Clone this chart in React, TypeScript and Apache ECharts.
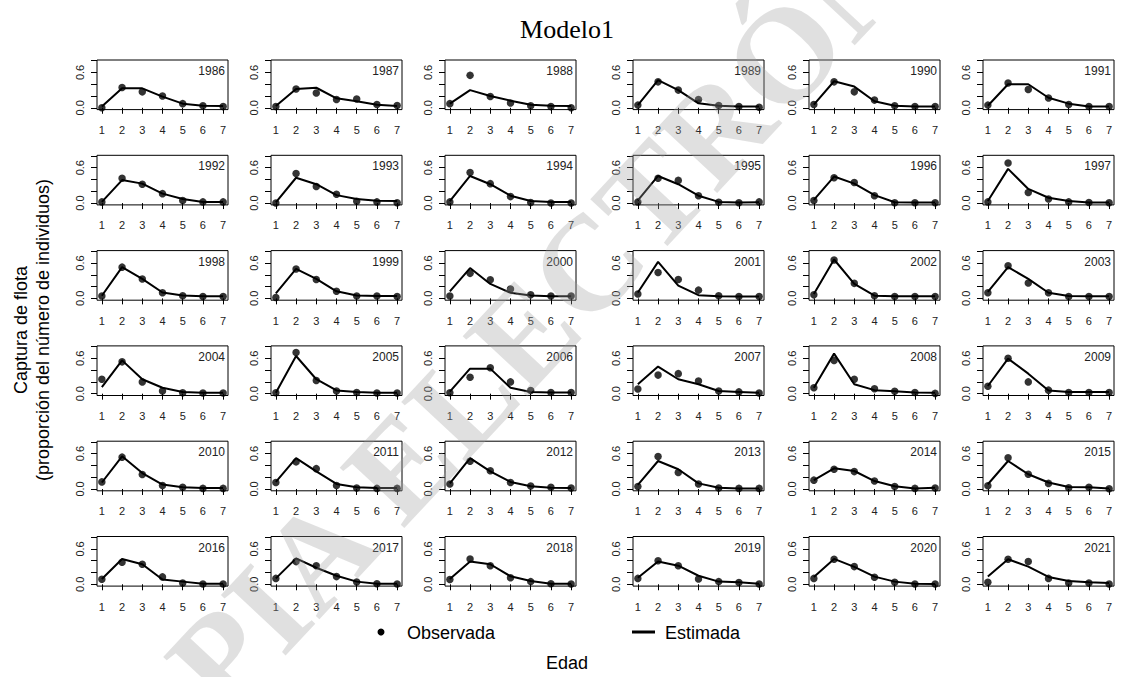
import React, { useEffect, useRef } from 'react';
import * as echarts from 'echarts';

const YEARS = [
  1986, 1987, 1988, 1989, 1990, 1991,
  1992, 1993, 1994, 1995, 1996, 1997,
  1998, 1999, 2000, 2001, 2002, 2003,
  2004, 2005, 2006, 2007, 2008, 2009,
  2010, 2011, 2012, 2013, 2014, 2015,
  2016, 2017, 2018, 2019, 2020, 2021,
];
const AGES = [1, 2, 3, 4, 5, 6, 7];
const Y_TICKS = [0, 0.2, 0.4, 0.6, 0.8];
const Y_TICK_LABELS = [0, 0.6];

// Observed proportions (points), one row per year, ages 1..7
const OBSERVED = [
  [0.0, 0.345, 0.27, 0.2, 0.07, 0.035, 0.02],
  [0.02, 0.32, 0.25, 0.14, 0.15, 0.055, 0.04],
  [0.07, 0.55, 0.19, 0.08, 0.035, 0.02, 0.0],
  [0.045, 0.44, 0.3, 0.14, 0.04, 0.02, 0.01],
  [0.055, 0.44, 0.27, 0.13, 0.035, 0.02, 0.02],
  [0.045, 0.42, 0.31, 0.165, 0.055, 0.02, 0.02],
  [0.02, 0.42, 0.32, 0.16, 0.045, 0.02, 0.02],
  [0.0, 0.5, 0.28, 0.15, 0.03, 0.02, 0.005],
  [0.02, 0.52, 0.33, 0.11, 0.01, 0.0, 0.0],
  [0.02, 0.42, 0.385, 0.125, 0.015, 0.005, 0.02],
  [0.045, 0.43, 0.35, 0.125, 0.005, 0.005, 0.005],
  [0.02, 0.68, 0.18, 0.07, 0.02, 0.01, 0.005],
  [0.04, 0.53, 0.33, 0.095, 0.045, 0.03, 0.03],
  [0.015, 0.5, 0.32, 0.12, 0.04, 0.04, 0.03],
  [0.04, 0.425, 0.315, 0.16, 0.06, 0.04, 0.04],
  [0.075, 0.44, 0.32, 0.14, 0.045, 0.03, 0.03],
  [0.06, 0.65, 0.255, 0.045, 0.03, 0.03, 0.03],
  [0.095, 0.555, 0.26, 0.095, 0.03, 0.03, 0.03],
  [0.245, 0.54, 0.2, 0.045, 0.015, 0.01, 0.01],
  [0.015, 0.7, 0.225, 0.045, 0.02, 0.01, 0.01],
  [0.015, 0.28, 0.44, 0.2, 0.055, 0.02, 0.02],
  [0.08, 0.315, 0.34, 0.215, 0.045, 0.03, 0.01],
  [0.1, 0.565, 0.245, 0.085, 0.04, 0.02, 0.005],
  [0.125, 0.6, 0.2, 0.06, 0.02, 0.02, 0.02],
  [0.12, 0.54, 0.245, 0.06, 0.03, 0.01, 0.01],
  [0.11, 0.46, 0.345, 0.06, 0.015, 0.01, 0.01],
  [0.085, 0.47, 0.31, 0.11, 0.05, 0.03, 0.015],
  [0.04, 0.55, 0.28, 0.085, 0.015, 0.01, 0.01],
  [0.15, 0.335, 0.295, 0.135, 0.04, 0.01, 0.015],
  [0.055, 0.53, 0.25, 0.095, 0.02, 0.03, 0.005],
  [0.085, 0.375, 0.34, 0.125, 0.02, 0.005, 0.005],
  [0.1, 0.385, 0.315, 0.13, 0.04, 0.01, 0.005],
  [0.08, 0.43, 0.315, 0.11, 0.045, 0.01, 0.005],
  [0.1, 0.4, 0.315, 0.09, 0.045, 0.03, 0.005],
  [0.1, 0.425, 0.3, 0.12, 0.035, 0.005, 0.005],
  [0.035, 0.425, 0.385, 0.1, 0.02, 0.02, 0.005],
];

// Estimated proportions (lines)
const ESTIMATED = [
  [0.02, 0.33, 0.33, 0.19, 0.07, 0.035, 0.03],
  [0.03, 0.32, 0.34, 0.16, 0.11, 0.05, 0.03],
  [0.07, 0.3, 0.2, 0.12, 0.05, 0.035, 0.03],
  [0.045, 0.47, 0.3, 0.075, 0.035, 0.02, 0.02],
  [0.055, 0.45, 0.36, 0.11, 0.035, 0.02, 0.02],
  [0.035, 0.4, 0.4, 0.17, 0.07, 0.02, 0.02],
  [0.02, 0.39, 0.33, 0.16, 0.07, 0.02, 0.02],
  [0.01, 0.43, 0.32, 0.135, 0.07, 0.04, 0.035],
  [0.035, 0.46, 0.32, 0.125, 0.035, 0.02, 0.02],
  [0.045, 0.46, 0.32, 0.125, 0.02, 0.01, 0.015],
  [0.055, 0.45, 0.33, 0.135, 0.015, 0.01, 0.01],
  [0.035, 0.58, 0.24, 0.09, 0.035, 0.01, 0.01],
  [0.045, 0.53, 0.33, 0.1, 0.05, 0.035, 0.035],
  [0.085, 0.5, 0.33, 0.12, 0.05, 0.04, 0.04],
  [0.12, 0.515, 0.245, 0.095, 0.05, 0.035, 0.035],
  [0.1, 0.62, 0.215, 0.055, 0.035, 0.03, 0.03],
  [0.075, 0.66, 0.245, 0.045, 0.035, 0.035, 0.035],
  [0.11, 0.53, 0.33, 0.095, 0.04, 0.035, 0.035],
  [0.11, 0.565, 0.245, 0.1, 0.03, 0.015, 0.015],
  [0.015, 0.64, 0.245, 0.055, 0.03, 0.015, 0.015],
  [0.035, 0.425, 0.425, 0.1, 0.03, 0.02, 0.02],
  [0.16, 0.46, 0.245, 0.16, 0.045, 0.03, 0.015],
  [0.1, 0.68, 0.16, 0.06, 0.04, 0.02, 0.015],
  [0.13, 0.595, 0.34, 0.055, 0.03, 0.03, 0.03],
  [0.11, 0.555, 0.27, 0.075, 0.03, 0.015, 0.015],
  [0.12, 0.525, 0.3, 0.085, 0.03, 0.015, 0.015],
  [0.095, 0.525, 0.3, 0.12, 0.045, 0.02, 0.015],
  [0.07, 0.475, 0.335, 0.095, 0.02, 0.01, 0.01],
  [0.15, 0.35, 0.305, 0.135, 0.045, 0.01, 0.02],
  [0.08, 0.475, 0.25, 0.11, 0.035, 0.03, 0.01],
  [0.09, 0.43, 0.34, 0.08, 0.045, 0.01, 0.01],
  [0.1, 0.44, 0.28, 0.145, 0.045, 0.01, 0.01],
  [0.09, 0.385, 0.34, 0.135, 0.055, 0.01, 0.01],
  [0.11, 0.385, 0.315, 0.145, 0.045, 0.035, 0.01],
  [0.125, 0.43, 0.295, 0.13, 0.045, 0.01, 0.005],
  [0.13, 0.425, 0.3, 0.125, 0.055, 0.035, 0.02],
];

// Layout (pixels)
const COL_LEFT = [97, 271, 445, 633, 809, 983];
const ROW_TOP = [60, 155.3, 250.6, 345.9, 441.2, 536.5];
const BOX_W = 131;
const BOX_H = 49.6;
const SANS = '"Liberation Sans", Arial, sans-serif';
const SERIF = '"Liberation Serif", "Times New Roman", serif';

export default function App() {
  const ref = useRef<HTMLDivElement>(null);

  useEffect(() => {
    if (!ref.current) return;
    const chart = echarts.init(ref.current, undefined, { renderer: 'svg' });

    const grids: any[] = [];
    const xAxes: any[] = [];
    const yAxes: any[] = [];
    const series: any[] = [];
    const graphics: any[] = [];

    YEARS.forEach((year, i) => {
      const r = Math.floor(i / 6);
      const c = i % 6;
      const left = COL_LEFT[c];
      const top = ROW_TOP[r];
      grids.push({
        left, top, width: BOX_W, height: BOX_H,
        show: true, borderColor: '#000', borderWidth: 1,
        backgroundColor: 'transparent', containLabel: false,
      });
      xAxes.push({
        type: 'value', gridIndex: i, min: 0.76, max: 7.24,
        axisLine: { show: false },
        splitLine: { show: false },
        axisTick: { show: true, customValues: AGES, length: 6, lineStyle: { color: '#000', width: 1 } },
        axisLabel: {
          show: true, customValues: AGES, margin: 15, fontSize: 11,
          fontFamily: SANS, color: '#222', formatter: (v: number) => String(v),
        },
      });
      yAxes.push({
        type: 'value', gridIndex: i, min: -0.031, max: 0.811,
        axisLine: { show: false },
        splitLine: { show: false },
        axisTick: { show: true, customValues: Y_TICKS, length: 6, lineStyle: { color: '#000', width: 1 } },
        axisLabel: {
          show: true, customValues: Y_TICK_LABELS, rotate: 90, margin: 12, fontSize: 11,
          fontFamily: SANS, color: '#222', formatter: (v: number) => v.toFixed(1),
        },
      });
      series.push({
        type: 'line', name: 'Estimada', xAxisIndex: i, yAxisIndex: i,
        data: AGES.map((a, j) => [a, ESTIMATED[i][j]]),
        showSymbol: false, symbol: 'none',
        lineStyle: { color: '#000', width: 2 }, z: 2, silent: true,
      });
      series.push({
        type: 'scatter', name: 'Observada', xAxisIndex: i, yAxisIndex: i,
        data: AGES.map((a, j) => [a, OBSERVED[i][j]]),
        symbol: 'circle', symbolSize: 7.5,
        itemStyle: { color: '#000' }, z: 3, silent: true,
      });
      graphics.push({
        type: 'text', x: left + BOX_W - 3, y: top + 11,
        style: {
          text: String(year), fill: '#222', font: `12px ${SANS}`,
          textAlign: 'right', textVerticalAlign: 'middle',
        },
      });
    });

    // titles and legend
    graphics.push(
      {
        type: 'text', x: 567, y: 29,
        style: { text: 'Modelo1', fill: '#000', font: `26px ${SERIF}`, textAlign: 'center', textVerticalAlign: 'middle' },
      },
      {
        type: 'text', x: 21, y: 330, rotation: Math.PI / 2,
        style: { text: 'Captura de flota', fill: '#000', font: `18px ${SANS}`, textAlign: 'center', textVerticalAlign: 'middle' },
      },
      {
        type: 'text', x: 43, y: 330, rotation: Math.PI / 2,
        style: { text: '(proporción del número de individuos)', fill: '#000', font: `18px ${SANS}`, textAlign: 'center', textVerticalAlign: 'middle' },
      },
      {
        type: 'text', x: 567, y: 663,
        style: { text: 'Edad', fill: '#000', font: `18px ${SANS}`, textAlign: 'center', textVerticalAlign: 'middle' },
      },
      { type: 'circle', shape: { cx: 381, cy: 632, r: 3.5 }, style: { fill: '#000' } },
      {
        type: 'text', x: 407, y: 633,
        style: { text: 'Observada', fill: '#000', font: `18px ${SANS}`, textAlign: 'left', textVerticalAlign: 'middle' },
      },
      { type: 'line', shape: { x1: 632, y1: 632, x2: 655, y2: 632 }, style: { stroke: '#000', lineWidth: 3 } },
      {
        type: 'text', x: 665, y: 633,
        style: { text: 'Estimada', fill: '#000', font: `18px ${SANS}`, textAlign: 'left', textVerticalAlign: 'middle' },
      },
      {
        type: 'text', x: 555, y: 300, rotation: (47 * Math.PI) / 180, z: 100,
        style: {
          text: 'COPIA ELECTRÓNICA', fill: 'rgba(160,160,160,0.32)',
          font: `bold 135px ${SERIF}`, textAlign: 'center', textVerticalAlign: 'middle',
        },
      },
    );

    chart.setOption({
      animation: false,
      backgroundColor: '#fff',
      grid: grids,
      xAxis: xAxes,
      yAxis: yAxes,
      series,
      graphic: graphics,
    });

    return () => chart.dispose();
  }, []);

  return (
    <div
      ref={ref}
      style={{ position: 'fixed', left: 0, top: 0, width: 1134, height: 677 }}
    />
  );
}
